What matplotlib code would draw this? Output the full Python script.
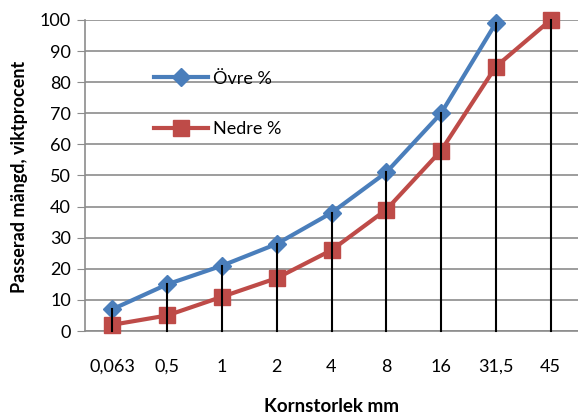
import matplotlib
matplotlib.use("Agg")
import matplotlib.pyplot as plt

plt.rcParams['font.family'] = ['Lato', 'DejaVu Sans']

sizes = ["0,063", "0,5", "1", "2", "4", "8", "16", "31,5", "45"]
ovre = [7, 15, 21, 28, 38, 51, 70, 99, None]
nedre = [2, 5, 11, 17, 26, 39, 58, 85, 100]

fig = plt.figure(figsize=(5.78, 4.17), dpi=100)
ax = fig.add_axes([85 / 578, 86 / 417, 493 / 578, 311 / 417])

x = list(range(len(sizes)))
grid_col = "#8c8c8c"

# drop lines from zero up to the highest point in each category
for i in x:
    vals = [v for v in (ovre[i], nedre[i]) if v is not None]
    ax.plot([i, i], [0, max(vals)], color="black", lw=1.5, zorder=4, clip_on=False)

xo = [i for i in x if ovre[i] is not None]
yo = [ovre[i] for i in xo]
ax.plot(xo, yo, color="#4A7EBB", lw=3, marker="D", ms=9, label="Övre %",
        zorder=3, clip_on=False)
ax.plot(x, nedre, color="#BE4B48", lw=3, marker="s", ms=11, label="Nedre %",
        zorder=3, clip_on=False)

ax.set_xlim(-0.5, len(sizes) - 0.5)
ax.set_ylim(0, 100)
ax.set_yticks(range(0, 101, 10))
ax.set_xticks(x)
ax.set_xticklabels(sizes)
ax.yaxis.grid(True, color=grid_col, lw=1.2)
ax.set_axisbelow(True)

for s in ("top", "right"):
    ax.spines[s].set_visible(False)
ax.spines["left"].set_color(grid_col)
ax.spines["bottom"].set_color(grid_col)
ax.spines["left"].set_linewidth(1.2)
ax.spines["bottom"].set_linewidth(1.2)
ax.tick_params(axis="y", length=6, color=grid_col, labelsize=13, pad=4)
ax.tick_params(axis="x", length=0, labelsize=13, pad=20)

fig.text(20 / 578, 1 - 177 / 417, "Passerad mängd, viktprocent", rotation=90,
         fontsize=13, fontweight="bold", ha="center", va="center")
fig.text(332 / 578, 1 - 407 / 417, "Kornstorlek mm",
         fontsize=13.5, fontweight="bold", ha="center", va="center")

ax.legend(loc="upper left", bbox_to_anchor=(0.125, 0.86), frameon=False, fontsize=13,
          handlelength=3.0, labelspacing=1.9, handletextpad=0.3, borderaxespad=0)

fig.savefig("out.png", dpi=100)
